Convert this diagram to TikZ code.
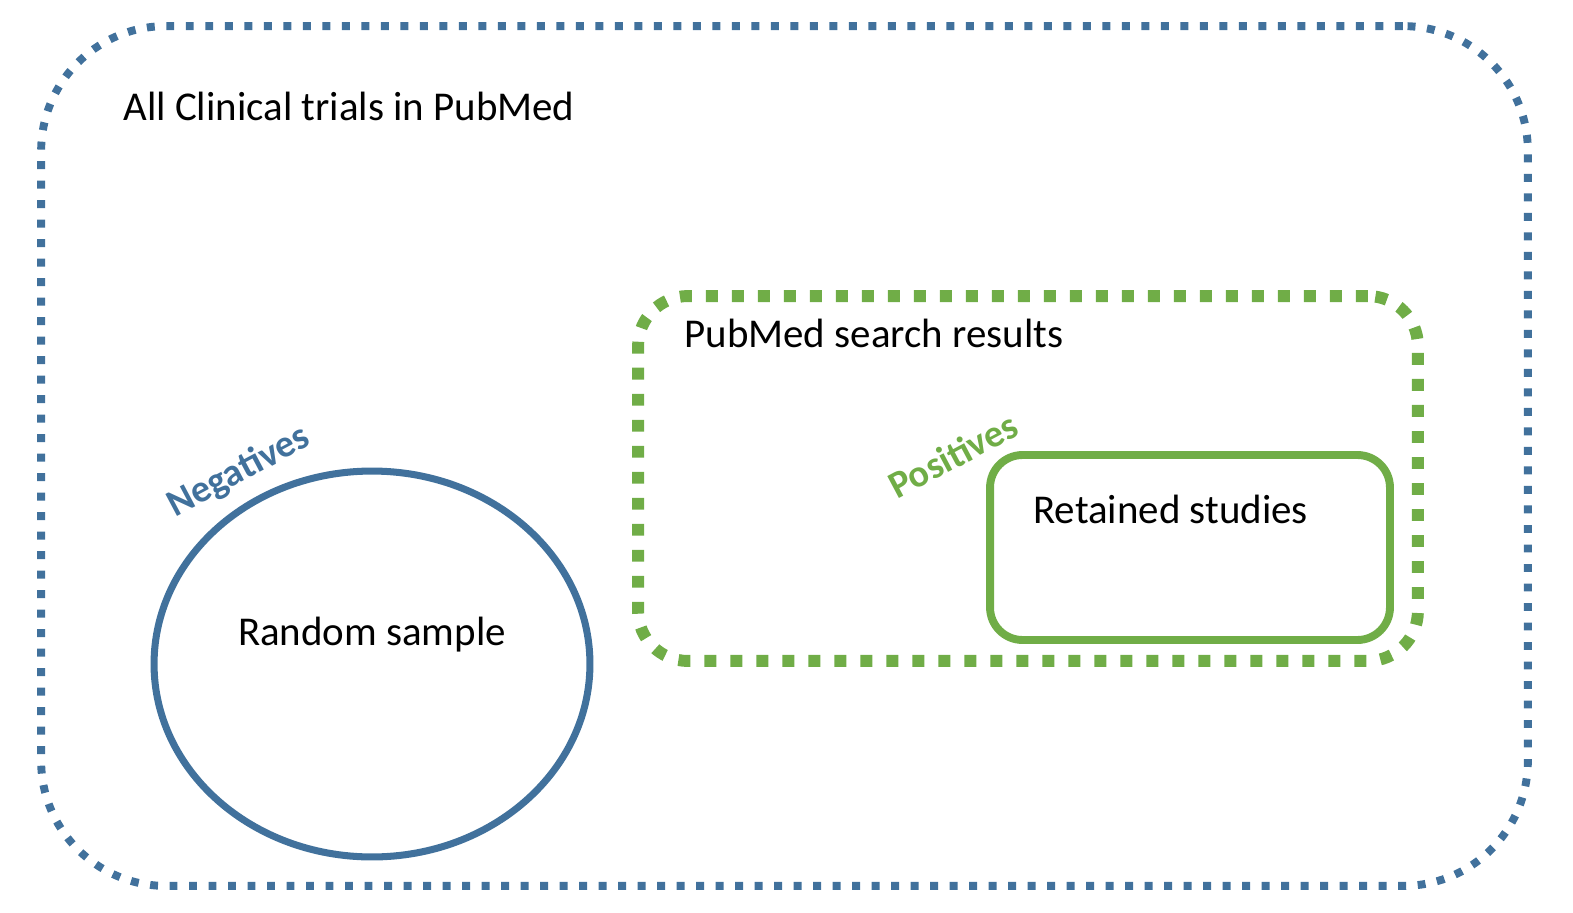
\documentclass[tikz,border=0pt]{standalone}
\usepackage{fontspec}
\setmainfont{Carlito}
\usepackage{xcolor}
\usetikzlibrary{shapes.geometric}
\definecolor{trialblue}{HTML}{41719C}
\definecolor{hitgreen}{HTML}{70AD47}
\tikzset{allbox/.style={draw=trialblue, line width=4.5pt,
dash pattern=on 4.5pt off 6.6pt, rounded corners=2.5cm},
searchbox/.style={draw=hitgreen, line width=6.8pt,
dash pattern=on 6.8pt off 8pt, rounded corners=1cm},
keptbox/.style={draw=hitgreen, line width=4.5pt, rounded corners=0.65cm},
samplering/.style={draw=trialblue, line width=4pt, ellipse}}

\begin{document}
\begin{tikzpicture}[x=0.02cm, y=-0.02cm, lbl/.style={font=\fontsize{23.3}{28}\selectfont, inner sep=0pt},
tag/.style={font=\bfseries\fontsize{21.8}{26}\selectfont, rotate=28, inner sep=0pt}]
	\useasboundingbox (0,0) rectangle (1573,913);
	\node[allbox, minimum width=29.74cm, minimum height=17.2cm] (all) at (784.5,456) {};
	\node[searchbox, minimum width=15.6cm, minimum height=7.3cm] (search) at (1028,478.5) {};
	\node[keptbox, minimum width=8cm, minimum height=3.7cm] (kept) at (1190,547.5) {};
	\node[samplering, minimum width=8.72cm, minimum height=7.72cm] (sample) at (372,664) {};
	\node[lbl, anchor=base west] (alltext) at (123,120) {All Clinical trials in PubMed};
	\node[lbl, anchor=base west] (searchtext) at (684,347) {PubMed search results};
	\node[lbl, anchor=base west] (kepttext) at (1033,523) {Retained studies};
	\node[lbl, anchor=base] (sampletext) at (372,645) {Random sample};
	\node[tag, text=trialblue] (neg) at (239,472) {Negatives};
	\node[tag, text=hitgreen] (pos) at (953,455) {Positives};
\end{tikzpicture}
\end{document}
